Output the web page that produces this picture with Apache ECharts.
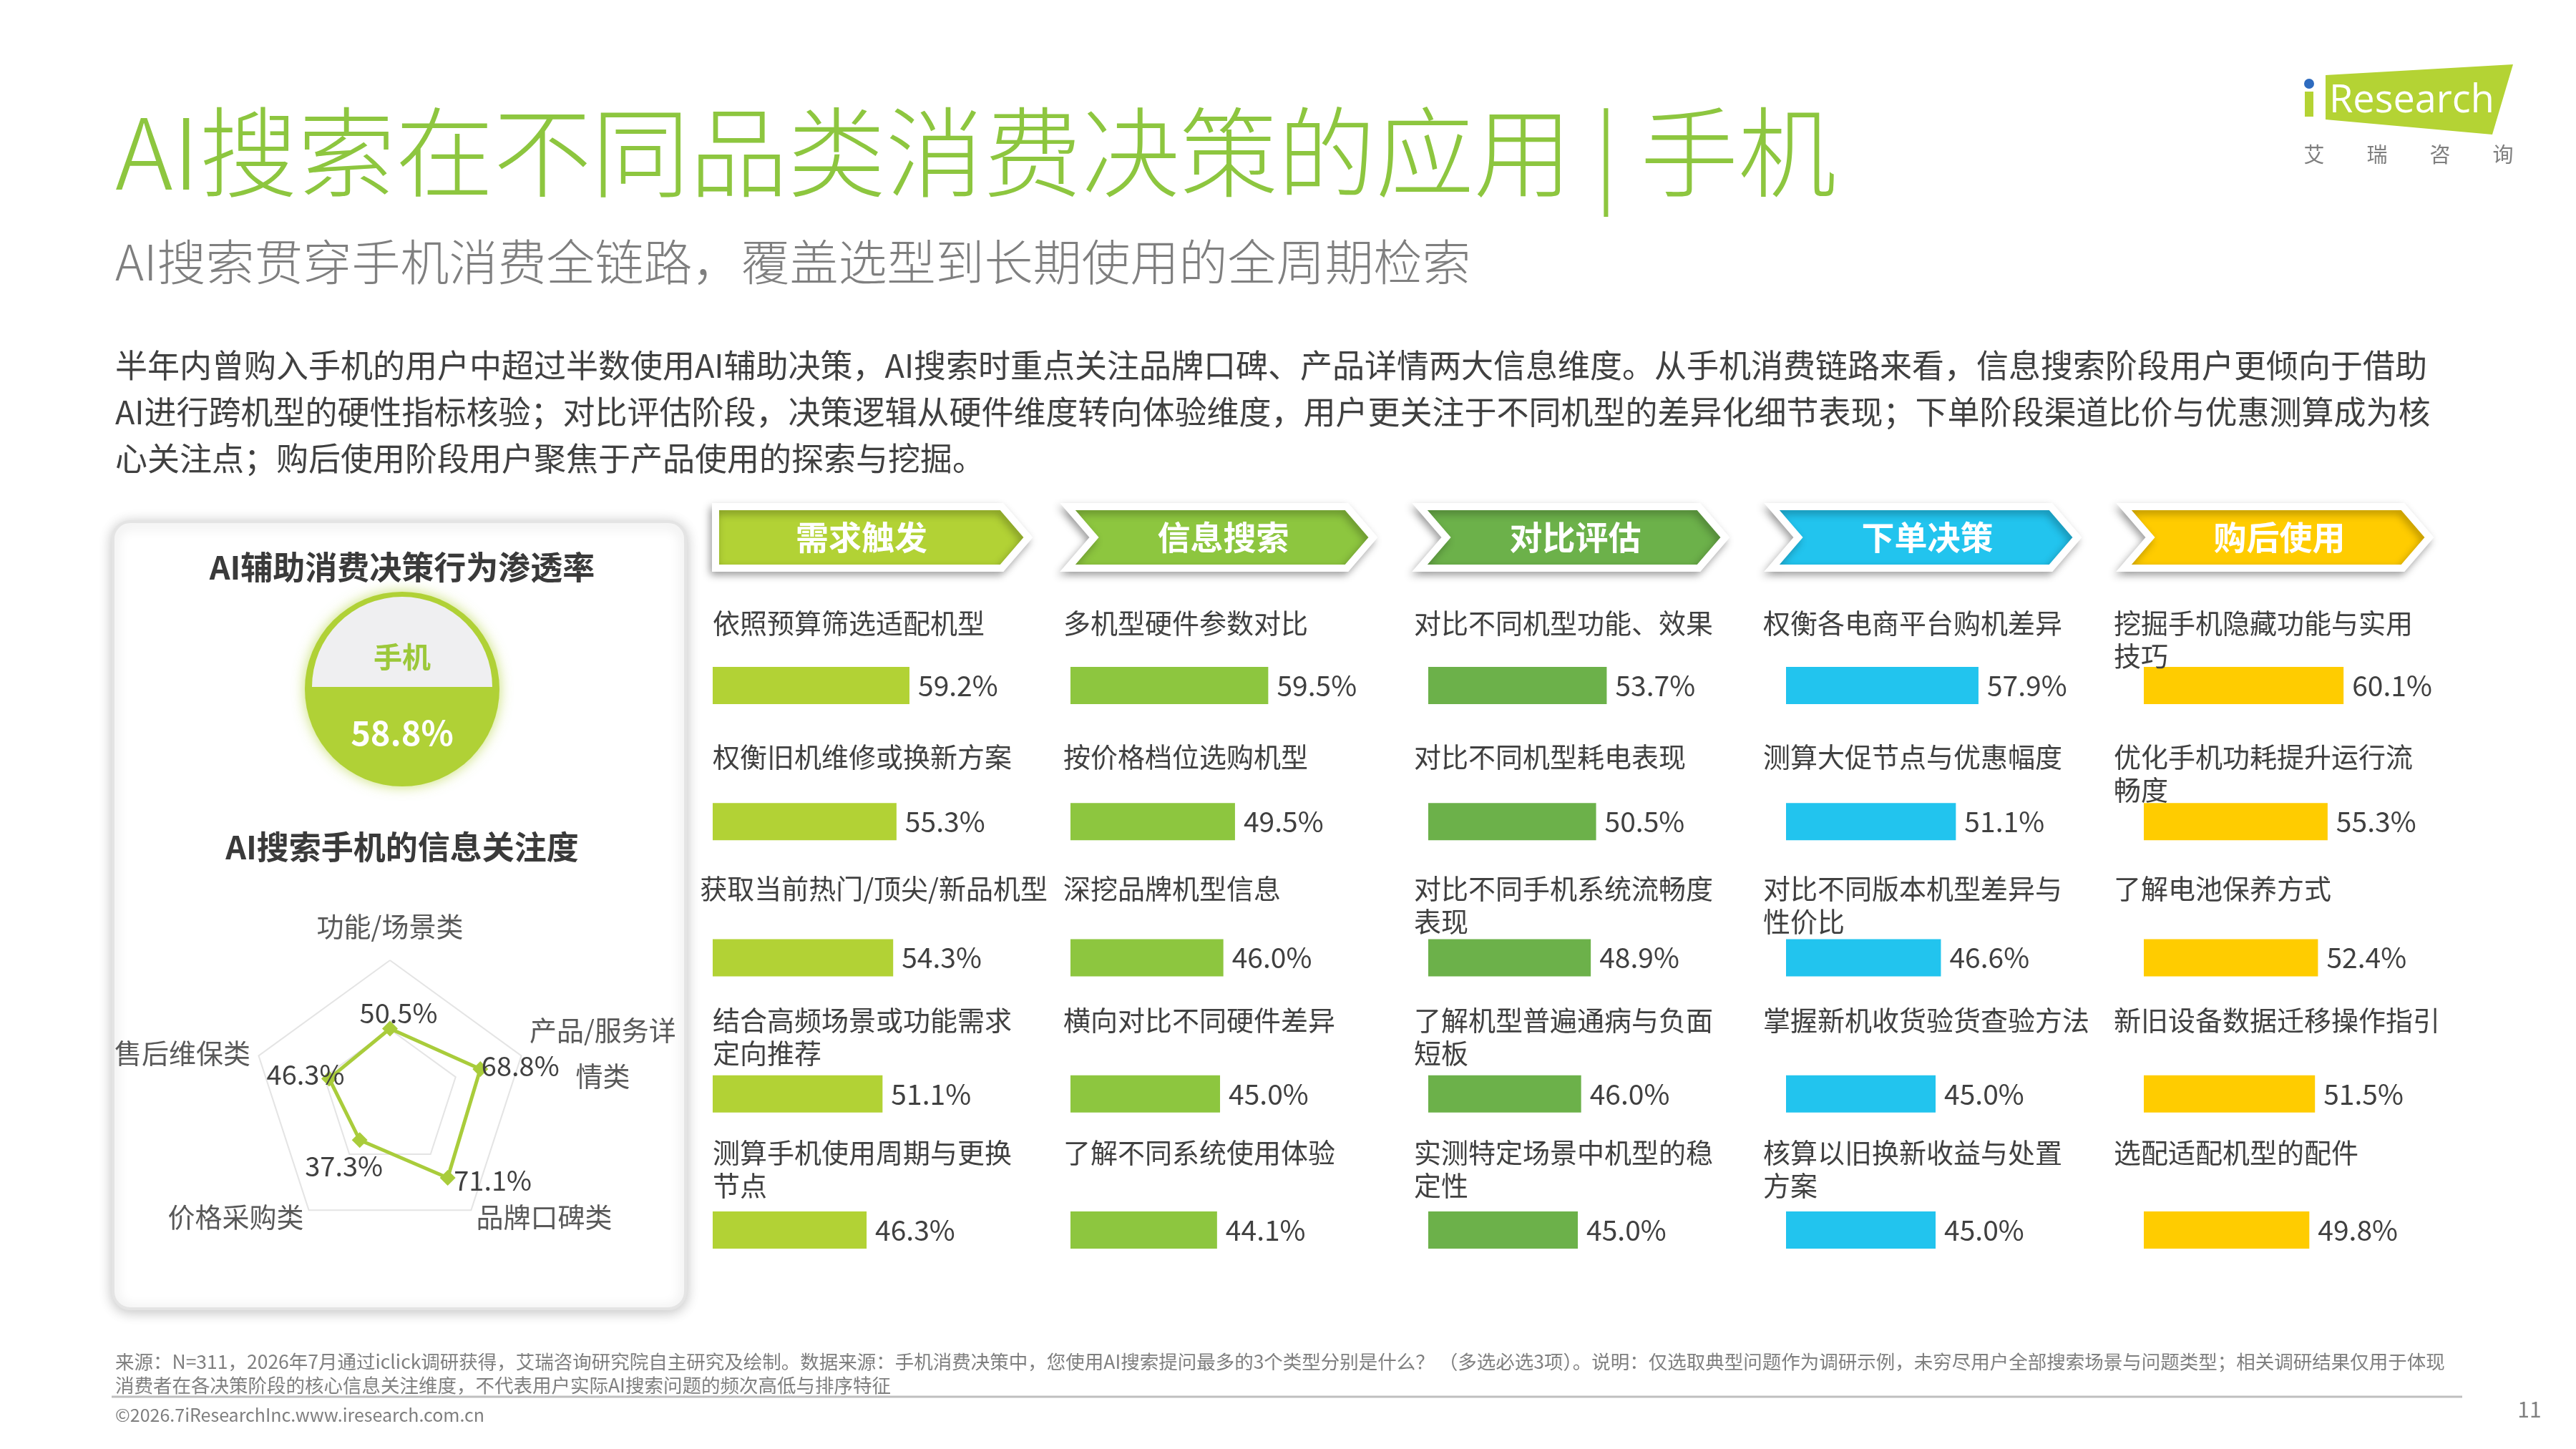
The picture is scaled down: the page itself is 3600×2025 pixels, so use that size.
<!DOCTYPE html>
<html>
<head>
<meta charset="utf-8">
<title>AI搜索在不同品类消费决策的应用 | 手机</title>
<script src="https://cdn.jsdelivr.net/npm/echarts@6/dist/echarts.min.js"></script>
<style>
html,body{margin:0;padding:0;background:#fff;}
#main{width:3600px;height:2025px;}
</style>
</head>
<body>
<div id="main"></div>
<script>
// 决策链路五个阶段
var stageNames = ['需求触发', '信息搜索', '对比评估', '下单决策', '购后使用'];

var demandItems = ['依照预算筛选适配机型', '权衡旧机维修或换新方案', '获取当前热门/顶尖/新品机型', '结合高频场景或功能需求\n定向推荐', '测算手机使用周期与更换\n节点'];
var demandValues = [59.2, 55.3, 54.3, 51.1, 46.3];

var searchItems = ['多机型硬件参数对比', '按价格档位选购机型', '深挖品牌机型信息', '横向对比不同硬件差异', '了解不同系统使用体验'];
var searchValues = [59.5, 49.5, 46.0, 45.0, 44.1];

var compareItems = ['对比不同机型功能、效果', '对比不同机型耗电表现', '对比不同手机系统流畅度\n表现', '了解机型普遍通病与负面\n短板', '实测特定场景中机型的稳\n定性'];
var compareValues = [53.7, 50.5, 48.9, 46.0, 45.0];

var orderItems = ['权衡各电商平台购机差异', '测算大促节点与优惠幅度', '对比不同版本机型差异与\n性价比', '掌握新机收货验货查验方法', '核算以旧换新收益与处置\n方案'];
var orderValues = [57.9, 51.1, 46.6, 45.0, 45.0];

var afterItems = ['挖掘手机隐藏功能与实用\n技巧', '优化手机功耗提升运行流\n畅度', '了解电池保养方式', '新旧设备数据迁移操作指引', '选配适配机型的配件'];
var afterValues = [60.1, 55.3, 52.4, 51.5, 49.8];

// 雷达图指标（ECharts 从顶部开始逆时针排列）
var focusNames = ['功能/场景类', '售后维保类', '价格采购类', '品牌口碑类', '产品/服务详\n情类'];
var focusValues = [50.5, 46.3, 37.3, 71.1, 68.8];

// 渗透率
var penetrationName = '手机';
var penetrationValue = 58.8;

var stageItems = [demandItems, searchItems, compareItems, orderItems, afterItems];
var stageValues = [demandValues, searchValues, compareValues, orderValues, afterValues];

// 样式
var stageColors = ['#b2d235', '#8dc63f', '#6cb14a', '#22c4ee', '#ffcc00'];
var FONT = '"Noto Sans CJK SC", "Noto Sans", sans-serif';
var textGray = '#404040';
var nameShift = [0, -10, -20, -32, -42];
var nameRowTop = [-85, -88, -94, -100, -105];
var focusLabelShift = [[12, -22], [-33, -6], [-22, 36], [63, 4], [56, -4]];

var chart = echarts.init(document.getElementById('main'), null, {renderer: 'canvas'});

function txt(x, y, text, font, color, align, valign, extra) {
	var style = {
		text: text, font: font, fill: color,
		align: align || 'left', verticalAlign: valign || 'middle',
		textAlign: align || 'left', textVerticalAlign: valign || 'middle'
	};
	if (extra) {
		for (var k in extra) style[k] = extra[k];
	}
	return {type: 'text', x: x, y: y, z: 5, style: style};
}

function nameLayout(col) {
	return function (p) {
		var dx = nameShift[col];
		// 过长的单行文字向左伸出
		if (p.labelRect.width > 470) dx -= p.labelRect.width - 468;
		return {
			x: p.rect.x + dx,
			y: p.rect.y + nameRowTop[p.dataIndex],
			align: 'left', verticalAlign: 'top'
		};
	};
}

var grids = [], xAxes = [], yAxes = [], series = [], graphics = [];

// 左侧面板
graphics.push({
	type: 'rect', z: 0,
	shape: {x: 158, y: 729, width: 800, height: 1100, r: 24},
	style: {fill: '#fff', stroke: '#e4e4e4', lineWidth: 4, shadowBlur: 18, shadowColor: 'rgba(0,0,0,0.22)', shadowOffsetY: 3}
});

// 五列柱状图
for (var i = 0; i < 5; i++) {
	grids.push({left: 996 + 500 * i, top: 863, width: 464.5, height: 951});
	xAxes.push({gridIndex: i, type: 'value', min: 0, max: 100, show: false});
	yAxes.push({gridIndex: i, type: 'category', data: stageItems[i], inverse: true, show: false});
	series.push({
		type: 'bar',
		xAxisIndex: i, yAxisIndex: i,
		data: stageValues[i],
		barWidth: 52,
		barGap: '-100%',
		silent: true,
		itemStyle: {color: stageColors[i]},
		label: {
			show: true, position: 'right', distance: 12,
			fontSize: 39, color: textGray, fontFamily: FONT,
			formatter: function (p) { return p.value.toFixed(1) + '%'; }
		}
	});
	// 选项名称放在柱子上方
	series.push({
		type: 'bar',
		xAxisIndex: i, yAxisIndex: i,
		data: stageValues[i],
		barWidth: 52,
		barGap: '-100%',
		silent: true,
		itemStyle: {color: 'rgba(0,0,0,0)'},
		label: {
			show: true, position: [0, -60],
			align: 'left', verticalAlign: 'top',
			fontSize: 38, lineHeight: 46, color: textGray, fontFamily: FONT,
			formatter: function (p) { return p.name; }
		},
		labelLayout: nameLayout(i)
	});

	// 阶段箭头
	var L = 1000 + 492 * i, T = 708, B = 794, C = 751;
	var R = i === 0 ? L + 400 : L + 390;
	var notch = i === 0 ? 0 : 37;
	var pts = [[L, T], [R, T], [R + 37, C], [R, B], [L, B]];
	if (notch) pts.push([L + notch, C]);
	graphics.push({
		type: 'polygon', z: 3,
		shape: {points: pts},
		style: {fill: stageColors[i], stroke: '#fff', lineWidth: 10, lineJoin: 'miter',
			shadowBlur: 12, shadowColor: 'rgba(0,0,0,0.3)', shadowOffsetX: -3, shadowOffsetY: 5}
	});
	graphics.push(txt((L + notch + R) / 2 + 4, C, stageNames[i], 'bold 46px ' + FONT, '#fff', 'center', 'middle'));
}

// 雷达图
series.push({
	type: 'radar',
	radarIndex: 0,
	silent: true,
	symbol: 'diamond',
	symbolSize: 22,
	itemStyle: {color: '#a9cc3b'},
	lineStyle: {color: '#a9cc3b', width: 5},
	label: {
		show: true, fontSize: 38, color: textGray, fontFamily: FONT,
		formatter: function (p) {
			var v = Array.isArray(p.value) ? p.value[p.dimensionIndex] : p.value;
			return Number(v).toFixed(1) + '%';
		}
	},
	labelLayout: function (p) {
		var k = focusValues.map(function (v) { return v.toFixed(1) + '%'; }).indexOf(p.text);
		if (k < 0) return {};
		return {
			x: p.rect.x + p.rect.width / 2 + focusLabelShift[k][0],
			y: p.rect.y + p.rect.height / 2 + focusLabelShift[k][1],
			align: 'center', verticalAlign: 'middle'
		};
	},
	data: [{value: focusValues, name: 'AI搜索手机的信息关注度'}]
});

// 面板标题与渗透率圆
graphics.push(txt(562, 793, 'AI辅助消费决策行为渗透率', 'bold 45px ' + FONT, '#3a3a3a', 'center', 'middle'));
graphics.push(txt(562, 1184, 'AI搜索手机的信息关注度', 'bold 45px ' + FONT, '#3a3a3a', 'center', 'middle'));
graphics.push({
	type: 'circle', z: 2,
	shape: {cx: 562, cy: 963, r: 136},
	style: {fill: '#b0d136', shadowBlur: 18, shadowColor: 'rgba(176,209,54,0.7)'}
});
graphics.push({
	type: 'sector', z: 3,
	shape: {cx: 562, cy: 960, r: 126, r0: 0, startAngle: Math.PI, endAngle: Math.PI * 2},
	style: {fill: '#efeff1'}
});
graphics.push(txt(562, 918, penetrationName, 'bold 40px ' + FONT, '#9cc83a', 'center', 'middle'));
graphics.push(txt(562, 1024, penetrationValue.toFixed(1) + '%', 'bold 47px ' + FONT, '#fff', 'center', 'middle'));

// 标题区
graphics.push(txt(161, 213, 'AI搜索在不同品类消费决策的应用 | 手机', '300 137px ' + FONT, '#8dc63f', 'left', 'middle'));
graphics.push(txt(161, 366, 'AI搜索贯穿手机消费全链路，覆盖选型到长期使用的全周期检索', '300 68px ' + FONT, '#7f7f7f', 'left', 'middle'));
graphics.push(txt(161, 478,
	'半年内曾购入手机的用户中超过半数使用AI辅助决策，AI搜索时重点关注品牌口碑、产品详情两大信息维度。从手机消费链路来看，信息搜索阶段用户更倾向于借助\n' +
	'AI进行跨机型的硬性指标核验；对比评估阶段，决策逻辑从硬件维度转向体验维度，用户更关注于不同机型的差异化细节表现；下单阶段渠道比价与优惠测算成为核\n' +
	'心关注点；购后使用阶段用户聚焦于产品使用的探索与挖掘。',
	'45px ' + FONT, '#404040', 'left', 'top', {lineHeight: 65}));

// logo
graphics.push({type: 'polygon', z: 3, shape: {points: [[3250, 105], [3512, 90], [3483, 188], [3250, 167]]}, style: {fill: '#b4d334'}});
graphics.push({type: 'rect', z: 3, shape: {x: 3221, y: 128, width: 12, height: 35}, style: {fill: '#b4d334'}});
graphics.push({type: 'circle', z: 3, shape: {cx: 3227, cy: 117, r: 7}, style: {fill: '#2e6bbf'}});
graphics.push(txt(3255, 142, 'Research', '54px "Open Sans", sans-serif', '#fff', 'left', 'middle'));
['艾', '瑞', '咨', '询'].forEach(function (c, k) {
	graphics.push(txt(3234 + 88 * k, 216, c, '29px ' + FONT, '#7f7f7f', 'center', 'middle'));
});

// 页脚
graphics.push(txt(161, 1903,
	'来源：N=311，2026年7月通过iclick调研获得，艾瑞咨询研究院自主研究及绘制。数据来源：手机消费决策中，您使用AI搜索提问最多的3个类型分别是什么？ （多选必选3项）。说明：仅选取典型问题作为调研示例，未穷尽用户全部搜索场景与问题类型；相关调研结果仅用于体现',
	'26.5px ' + FONT, '#7f7f7f', 'left', 'middle'));
graphics.push(txt(161, 1936, '消费者在各决策阶段的核心信息关注维度，不代表用户实际AI搜索问题的频次高低与排序特征', '26.5px ' + FONT, '#7f7f7f', 'left', 'middle'));
graphics.push({type: 'line', z: 3, shape: {x1: 156, y1: 1952, x2: 3441, y2: 1952}, style: {stroke: '#bfbfbf', lineWidth: 3}});
graphics.push(txt(161, 1977, '©2026.7iResearchInc.www.iresearch.com.cn', '25px ' + FONT, '#7f7f7f', 'left', 'middle'));
graphics.push(txt(3535, 1970, '11', '30px ' + FONT, '#7f7f7f', 'center', 'middle'));

var option = {
	backgroundColor: '#fff',
	animation: false,
	textStyle: {fontFamily: FONT},
	grid: grids,
	xAxis: xAxes,
	yAxis: yAxes,
	radar: {
		center: [545, 1535],
		radius: 193,
		startAngle: 90,
		splitNumber: 2,
		shape: 'polygon',
		nameGap: 12,
		indicator: focusNames.map(function (n) { return {name: n, min: 0, max: 100}; }),
		axisName: {
			color: '#595959', fontSize: 38, fontFamily: FONT,
			formatter: function (name) {
				if (name === focusNames[0]) return '{t|' + name + '}';
				if (name.indexOf('\n') >= 0) {
					return name.split('\n').map(function (s) { return '{c|' + s + '}'; }).join('\n');
				}
				return name;
			},
			rich: {
				t: {fontSize: 38, color: '#595959', fontFamily: FONT, padding: [0, 0, 16, 0]},
				c: {fontSize: 38, color: '#595959', fontFamily: FONT, align: 'center', lineHeight: 64}
			}
		},
		axisLine: {show: false},
		axisTick: {show: false},
		axisLabel: {show: false},
		splitLine: {lineStyle: {color: '#e4e4e4', width: 2}},
		splitArea: {show: false}
	},
	series: series,
	graphic: graphics
};
chart.setOption(option);
</script>
</body>
</html>
